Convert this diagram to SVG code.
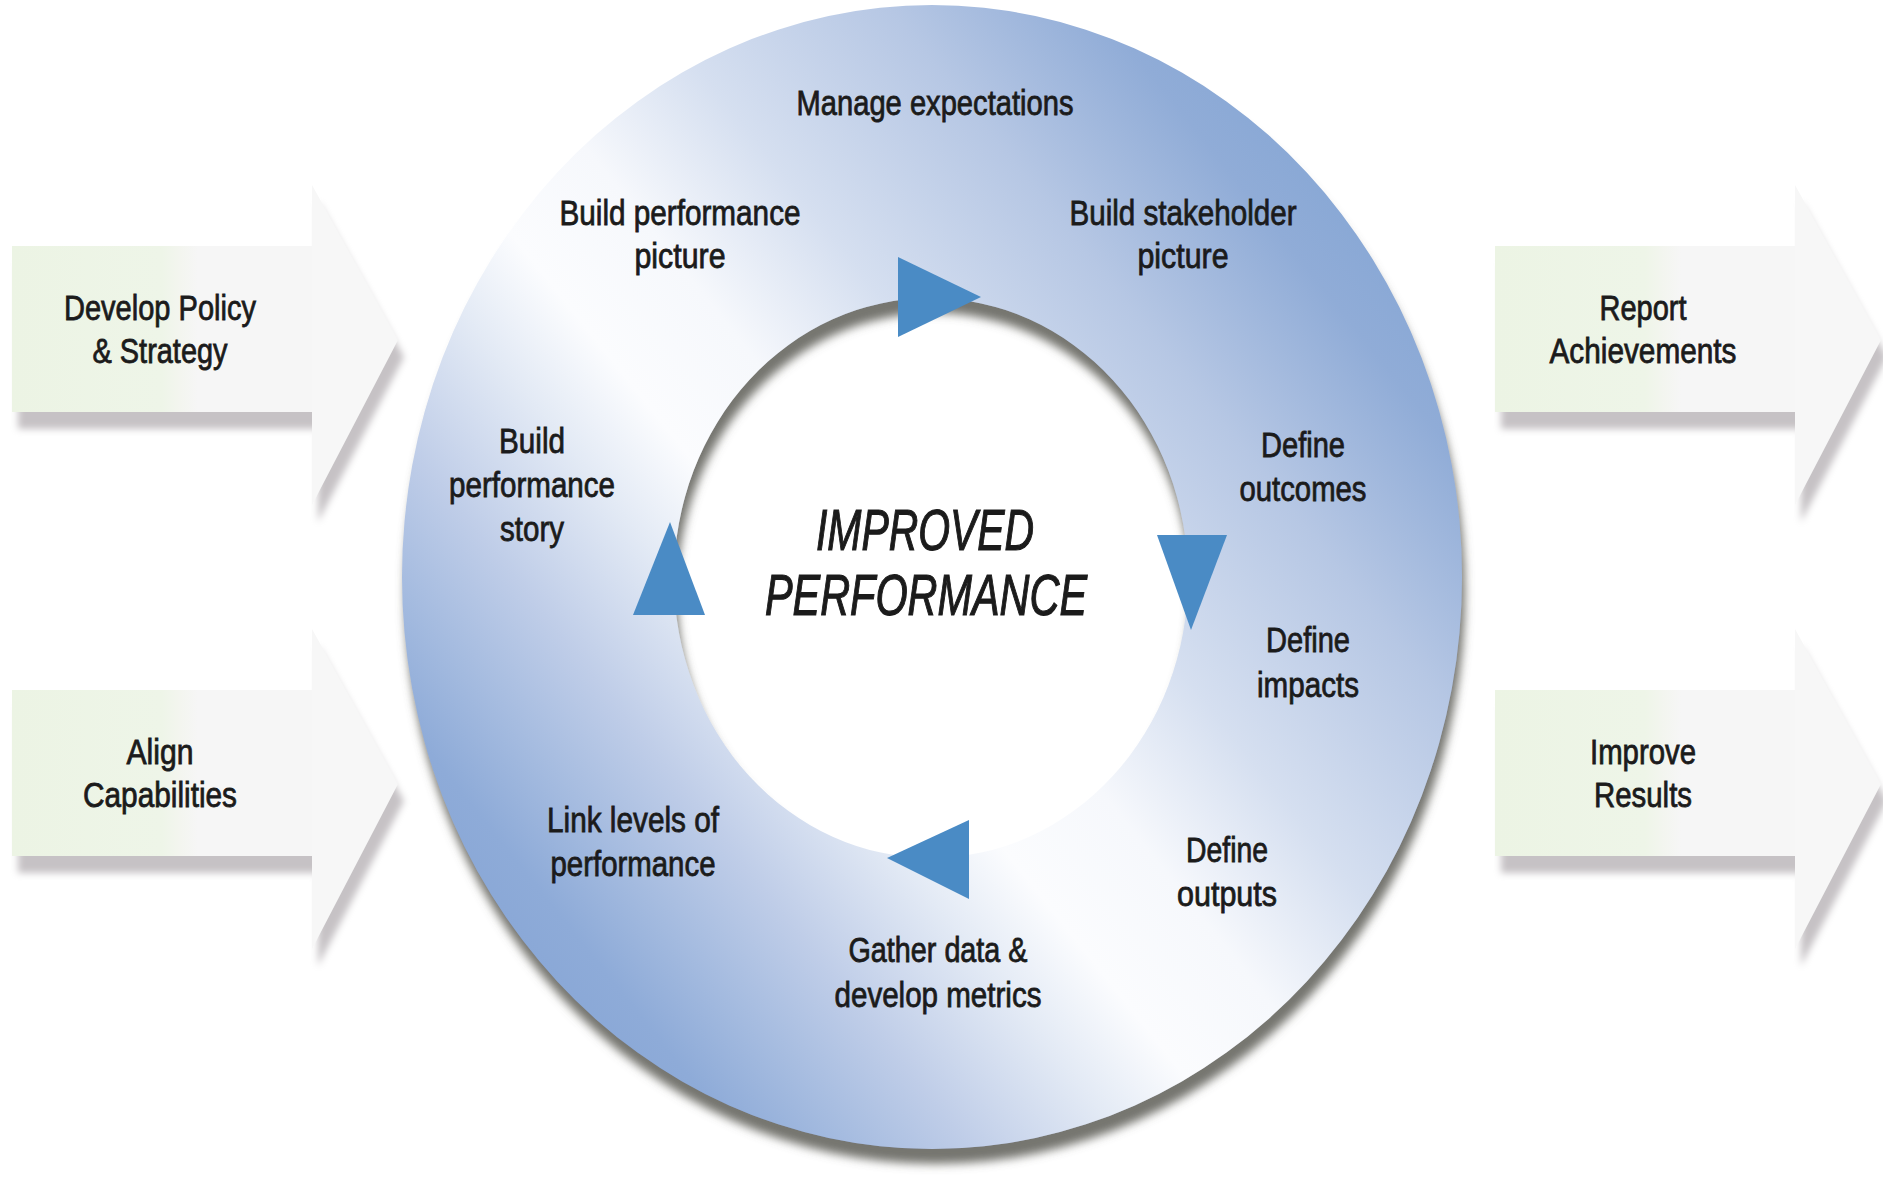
<svg xmlns="http://www.w3.org/2000/svg" width="1883" height="1182" viewBox="0 0 1883 1182">
  <defs>
    <style>
      .lbl { font-family: "Liberation Sans", Arial, sans-serif; font-size: 35px; fill: #1b1b1b; stroke: #1b1b1b; stroke-width: 0.8px; text-anchor: middle; }
      .ctr { font-family: "Liberation Sans", Arial, sans-serif; font-size: 58px; font-style: italic; fill: #1b1b1b; stroke: #1b1b1b; stroke-width: 1.2px; text-anchor: middle; }
      .tri { fill: #4a8bc5; }
      .arrowHead { fill: #f7f7f7; filter: url(#arrowShadow); }
      .arrowBody { fill: url(#boxFill); }
    </style>
    <!-- diagonal banded fill of the ring -->
    <linearGradient id="ringFill" gradientUnits="userSpaceOnUse" x1="462" y1="953" x2="1438" y2="172">
      <stop offset="0" stop-color="#86a5d5"/>
      <stop offset="0.08" stop-color="#8eabd8"/>
      <stop offset="0.14" stop-color="#a3badf"/>
      <stop offset="0.22" stop-color="#bfcde8"/>
      <stop offset="0.32" stop-color="#e3eaf5"/>
      <stop offset="0.39" stop-color="#fbfcfe"/>
      <stop offset="0.48" stop-color="#f6f8fc"/>
      <stop offset="0.59" stop-color="#d5dff0"/>
      <stop offset="0.74" stop-color="#b6c7e4"/>
      <stop offset="0.87" stop-color="#90acd7"/>
      <stop offset="1" stop-color="#80a3d3"/>
    </linearGradient>
    <linearGradient id="boxFill" x1="0" y1="0" x2="1" y2="0">
      <stop offset="0" stop-color="#ecf4e4"/>
      <stop offset="0.5" stop-color="#eef5e8"/>
      <stop offset="0.56" stop-color="#f3f5ef"/>
      <stop offset="0.62" stop-color="#f6f6f6"/>
      <stop offset="1" stop-color="#f6f6f6"/>
    </linearGradient>
    <filter id="ringShadow" x="-10%" y="-10%" width="120%" height="125%">
      <feGaussianBlur in="SourceAlpha" stdDeviation="5"/>
      <feOffset dx="3" dy="15" result="blur"/>
      <feFlood flood-color="#6e6e68" flood-opacity="0.95"/>
      <feComposite in2="blur" operator="in"/>
      <feMerge>
        <feMergeNode/>
        <feMergeNode in="SourceGraphic"/>
      </feMerge>
    </filter>
    <filter id="arrowShadow" x="-10%" y="-10%" width="130%" height="130%">
      <feGaussianBlur in="SourceAlpha" stdDeviation="3.5"/>
      <feOffset dx="6" dy="17" result="blur"/>
      <feFlood flood-color="#c6c2c5"/>
      <feComposite in2="blur" operator="in"/>
      <feMerge>
        <feMergeNode/>
        <feMergeNode in="SourceGraphic"/>
      </feMerge>
    </filter>
    <path id="arrowShape" d="M0,61 H300 V0 L386,155 L300,320 V227 H0 Z"/>
  </defs>

  <rect width="1883" height="1182" fill="#ffffff"/>

  <!-- side arrows -->
  <g id="develop-policy" transform="translate(12,185)">
    <use href="#arrowShape" class="arrowHead"/>
    <rect class="arrowBody" x="0" y="61" width="300" height="166"/>
    <text class="lbl" x="148" y="135" textLength="192" lengthAdjust="spacingAndGlyphs">Develop Policy</text>
    <text class="lbl" x="148" y="178" textLength="135" lengthAdjust="spacingAndGlyphs">&amp; Strategy</text>
  </g>
  <g id="align-capabilities" transform="translate(12,629)">
    <use href="#arrowShape" class="arrowHead"/>
    <rect class="arrowBody" x="0" y="61" width="300" height="166"/>
    <text class="lbl" x="148" y="135" textLength="67" lengthAdjust="spacingAndGlyphs">Align</text>
    <text class="lbl" x="148" y="178" textLength="154" lengthAdjust="spacingAndGlyphs">Capabilities</text>
  </g>
  <g id="report-achievements" transform="translate(1495,185)">
    <use href="#arrowShape" class="arrowHead"/>
    <rect class="arrowBody" x="0" y="61" width="300" height="166"/>
    <text class="lbl" x="148" y="135" textLength="87" lengthAdjust="spacingAndGlyphs">Report</text>
    <text class="lbl" x="148" y="178" textLength="187" lengthAdjust="spacingAndGlyphs">Achievements</text>
  </g>
  <g id="improve-results" transform="translate(1495,629)">
    <use href="#arrowShape" class="arrowHead"/>
    <rect class="arrowBody" x="0" y="61" width="300" height="166"/>
    <text class="lbl" x="148" y="135" textLength="106" lengthAdjust="spacingAndGlyphs">Improve</text>
    <text class="lbl" x="148" y="178" textLength="98" lengthAdjust="spacingAndGlyphs">Results</text>
  </g>

  <!-- the cycle ring -->
  <g id="ring">
    <path filter="url(#ringShadow)" fill="url(#ringFill)" fill-rule="evenodd"
          d="M402,577 A530,572 0 1,0 1462,577 A530,572 0 1,0 402,577 Z
             M674,578 A257,280 0 1,1 1188,578 A257,280 0 1,1 674,578 Z"/>
  </g>

  <!-- flow direction markers around the ring -->
  <g id="connectors">
    <polygon class="tri" points="898,257 898,337 981,297"/>
    <polygon class="tri" points="1157,535 1227,535 1191,630"/>
    <polygon class="tri" points="969,820 969,899 887,858"/>
    <polygon class="tri" points="633,615 705,615 670,522"/>
  </g>

  <g id="step-manage-expectations">
    <text class="lbl" x="935" y="115" textLength="277" lengthAdjust="spacingAndGlyphs">Manage expectations</text>
  </g>
  <g id="step-build-stakeholder-picture">
    <text class="lbl" x="1183" y="225" textLength="227" lengthAdjust="spacingAndGlyphs">Build stakeholder</text>
    <text class="lbl" x="1183" y="268" textLength="91" lengthAdjust="spacingAndGlyphs">picture</text>
  </g>
  <g id="step-define-outcomes">
    <text class="lbl" x="1303" y="457" textLength="84" lengthAdjust="spacingAndGlyphs">Define</text>
    <text class="lbl" x="1303" y="501" textLength="127" lengthAdjust="spacingAndGlyphs">outcomes</text>
  </g>
  <g id="step-define-impacts">
    <text class="lbl" x="1308" y="652" textLength="84" lengthAdjust="spacingAndGlyphs">Define</text>
    <text class="lbl" x="1308" y="697" textLength="102" lengthAdjust="spacingAndGlyphs">impacts</text>
  </g>
  <g id="step-define-outputs">
    <text class="lbl" x="1227" y="862" textLength="82" lengthAdjust="spacingAndGlyphs">Define</text>
    <text class="lbl" x="1227" y="906" textLength="100" lengthAdjust="spacingAndGlyphs">outputs</text>
  </g>
  <g id="step-gather-data">
    <text class="lbl" x="938" y="962" textLength="179" lengthAdjust="spacingAndGlyphs">Gather data &amp;</text>
    <text class="lbl" x="938" y="1007" textLength="207" lengthAdjust="spacingAndGlyphs">develop metrics</text>
  </g>
  <g id="step-link-levels">
    <text class="lbl" x="633" y="832" textLength="172" lengthAdjust="spacingAndGlyphs">Link levels of</text>
    <text class="lbl" x="633" y="876" textLength="165" lengthAdjust="spacingAndGlyphs">performance</text>
  </g>
  <g id="step-build-performance-story">
    <text class="lbl" x="532" y="453" textLength="66" lengthAdjust="spacingAndGlyphs">Build</text>
    <text class="lbl" x="532" y="497" textLength="166" lengthAdjust="spacingAndGlyphs">performance</text>
    <text class="lbl" x="532" y="541" textLength="64" lengthAdjust="spacingAndGlyphs">story</text>
  </g>
  <g id="step-build-performance-picture">
    <text class="lbl" x="680" y="225" textLength="241" lengthAdjust="spacingAndGlyphs">Build performance</text>
    <text class="lbl" x="680" y="268" textLength="91" lengthAdjust="spacingAndGlyphs">picture</text>
  </g>

  <g id="improved-performance">
    <text class="ctr" x="925" y="550" textLength="218" lengthAdjust="spacingAndGlyphs">IMPROVED</text>
    <text class="ctr" x="926" y="615" textLength="322" lengthAdjust="spacingAndGlyphs">PERFORMANCE</text>
  </g>
</svg>
